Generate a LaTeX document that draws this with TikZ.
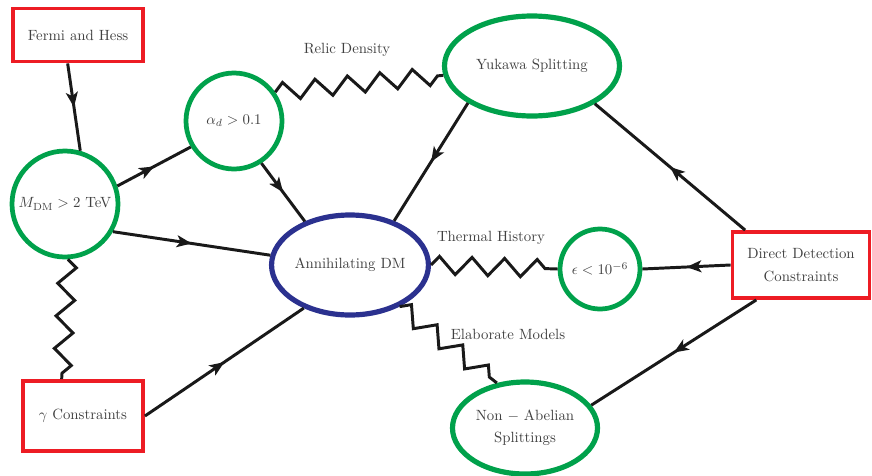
\documentclass[tikz,border=0pt]{standalone}
\usetikzlibrary{shapes.geometric,decorations.pathmorphing,decorations.markings,arrows.meta}
\definecolor{cgreen}{RGB}{0,161,75}
\definecolor{cred}{RGB}{237,28,36}
\definecolor{cblue}{RGB}{43,49,143}

\begin{document}
\begin{tikzpicture}[x=0.675pt,y=-0.675pt]
\def\px{0.675pt}
\tikzset{constraint/.style={shape=rectangle,draw=cred,line width=2.6pt,align=center,text=black!75}}
\tikzset{bubble/.style={shape=circle,draw=cgreen,line width=3.2pt,inner sep=0pt,text=black!75}}
\tikzset{blob/.style={shape=ellipse,draw=cgreen,line width=3.5pt,inner sep=0pt,align=center,text=black!75}}
\tikzset{prop/.style={draw=black!90,line width=2pt,postaction={decorate},decoration={markings,mark=at position 0.5 with {\arrow{Stealth[length=10pt,width=8pt,inset=2.5pt]}}}}}
\tikzset{wiggle/.style={draw=black!90,line width=2pt,decorate,decoration={zigzag,segment length=22pt,amplitude=6pt}}}
\tikzset{tag/.style={text=black!75}}
\useasboundingbox (0,0) rectangle (872,475);
%
\node at (78,35) [constraint,minimum width=130*\px,minimum height=53*\px] (fermi) {Fermi and Hess};
\node at (83,416) [constraint,minimum width=120*\px,minimum height=70*\px] (gamma) {$\gamma$ Constraints};
\node at (801,265) [constraint,minimum width=137*\px,minimum height=66*\px] (direct) {Direct Detection\\[3pt] Constraints};
%
\node at (65,204) [bubble,minimum size=106*\px] (mdm) {$M_{\rm DM} > 2$ TeV};
\node at (234,121) [bubble,minimum size=96*\px] (alpha) {$\alpha_d > 0.1$};
\node at (600,269) [bubble,minimum size=80*\px] (eps) {$\epsilon < 10^{-6}$};
%
\node at (532,66) [blob,minimum width=175*\px,minimum height=100*\px] (yukawa) {Yukawa Splitting};
\node at (525,428) [blob,minimum width=145*\px,minimum height=92*\px] (nonabel) {Non $-$ Abelian\\[3pt] Splittings};
\node at (350,265) [blob,draw=cblue,minimum width=150*\px,minimum height=100*\px] (annihil) {Annihilating DM};
%
\draw[prop] (fermi.250) -- (mdm.74);
\draw[prop] (mdm.19) -- (alpha.211);
\draw[prop] (mdm.-30) -- (annihil.173);
\draw[prop] (alpha.-57) -- (annihil.136);
\draw[prop] (yukawa.210) -- (annihil.45);
\draw[prop] (direct.148) -- (yukawa.-31);
\draw[prop] (direct.west) -- (eps.east);
\draw[prop] (direct.218) -- (nonabel.19);
\draw[prop] (gamma.east) -- (annihil.223);
%
\draw[wiggle] (alpha.35) -- (yukawa.186);
\draw[wiggle] (annihil.east) -- (eps.west);
\draw[wiggle] (annihil.-40) -- (nonabel.122);
\draw[wiggle] (mdm.-87) -- (gamma.120);
%
\node at (347,50) [tag] (relic) {Relic Density};
\node at (491,238) [tag] (thermal) {Thermal History};
\node at (508,334) [tag] (elaborate) {Elaborate Models};
\end{tikzpicture}
\end{document}
